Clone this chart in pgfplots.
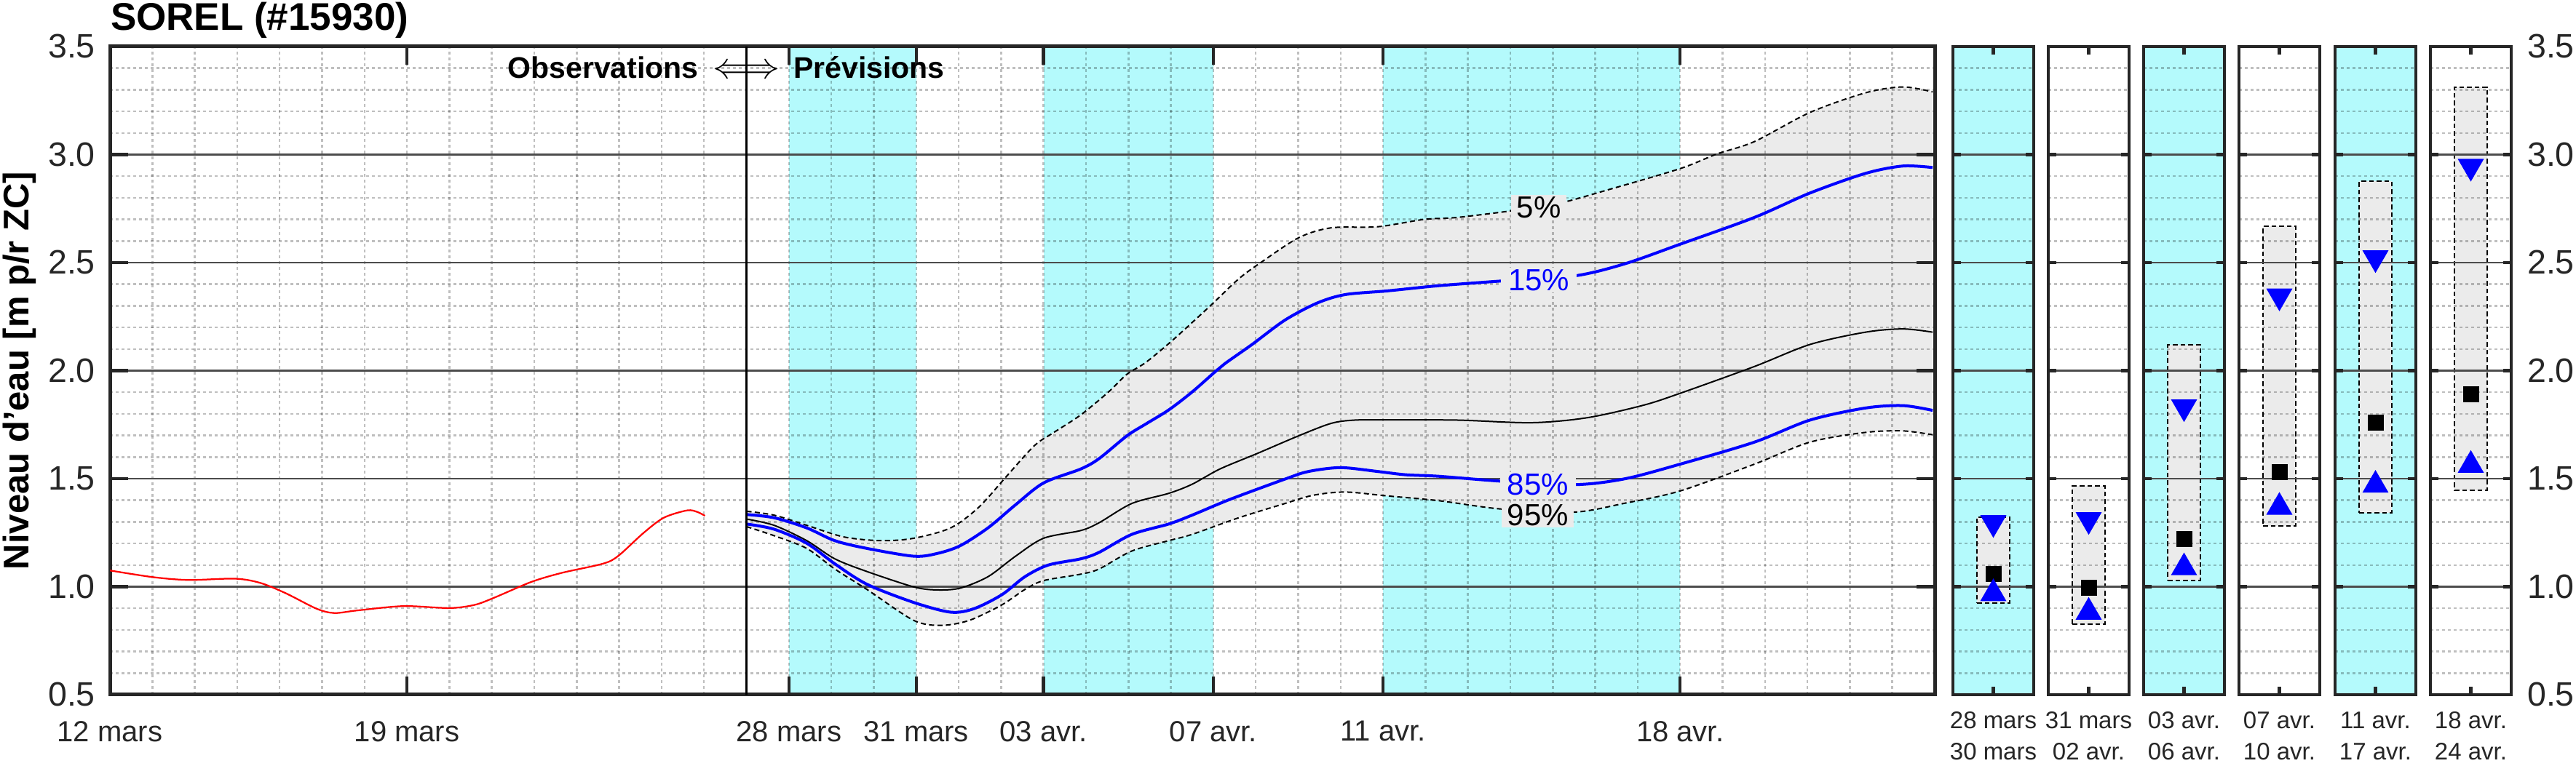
\documentclass[border=0pt]{standalone}
\usepackage{fontspec}
\setmainfont{Liberation Sans}
\usepackage{pgfplots}
\usepackage{pgfplotstable}
\pgfplotsset{compat=1.18}
\usepgfplotslibrary{fillbetween}

\definecolor{bandcyan}{RGB}{180,250,252}
\definecolor{bandgray}{RGB}{235,235,235}
\definecolor{axgray}{RGB}{38,38,38}

% x = days since 12 mars
\pgfplotstableread{
day val
0.00 1.075
1.02 1.044
1.86 1.031
2.95 1.037
3.55 1.017
4.15 0.969
4.87 0.898
5.29 0.878
5.83 0.890
6.92 0.910
8.00 0.901
8.60 0.916
9.08 0.951
9.93 1.022
10.65 1.064
11.61 1.106
11.97 1.141
12.57 1.248
13.05 1.319
13.60 1.353
13.84 1.346
14.02 1.328
}\obs

\pgfplotstableread{
day val
15.00 1.349
15.65 1.331
16.42 1.284
17.30 1.230
18.17 1.213
18.94 1.224
19.81 1.272
20.47 1.367
21.12 1.509
21.78 1.652
22.22 1.711
22.87 1.794
23.53 1.901
23.97 1.984
24.41 2.038
25.06 2.144
25.94 2.302
26.60 2.425
27.14 2.503
28.02 2.616
28.78 2.661
29.88 2.666
30.97 2.700
31.75 2.709
33.15 2.743
34.20 2.777
35.25 2.834
37.00 2.935
37.87 3.003
38.75 3.060
40.06 3.195
41.37 3.286
42.25 3.313
42.95 3.290
}\pfive

\pgfplotstableread{
day val
15.00 1.334
15.65 1.319
16.42 1.272
17.08 1.213
17.84 1.177
18.94 1.141
19.48 1.153
20.03 1.189
20.69 1.272
21.34 1.379
22.00 1.480
22.88 1.545
23.31 1.593
23.97 1.699
24.41 1.753
24.95 1.818
25.50 1.901
26.05 1.996
26.27 2.032
26.92 2.122
27.69 2.234
28.45 2.313
29.11 2.352
30.10 2.369
31.31 2.393
32.80 2.415
34.50 2.438
35.69 2.494
37.00 2.585
38.75 2.709
40.06 2.822
41.37 2.913
42.25 2.947
42.95 2.940
}\pfifteen

\pgfplotstableread{
day val
15.00 1.313
15.65 1.284
16.42 1.213
17.08 1.129
17.84 1.070
18.94 0.999
19.48 0.985
20.03 0.993
20.69 1.046
21.34 1.141
22.00 1.224
22.88 1.260
23.31 1.296
24.08 1.385
24.95 1.432
25.50 1.474
26.16 1.545
27.03 1.616
28.02 1.699
28.78 1.756
29.33 1.771
30.10 1.772
31.75 1.771
33.50 1.759
34.81 1.782
36.12 1.839
37.00 1.895
38.75 2.019
40.06 2.121
41.37 2.178
42.25 2.193
42.95 2.178
}\pfifty

\pgfplotstableread{
day val
15.00 1.290
15.65 1.266
16.42 1.201
17.08 1.106
17.84 1.011
18.94 0.927
19.81 0.882
20.36 0.898
21.02 0.963
21.56 1.046
22.11 1.100
22.88 1.129
23.31 1.159
24.08 1.242
24.95 1.290
25.50 1.331
26.38 1.403
27.69 1.498
28.24 1.533
29.00 1.551
29.88 1.533
30.53 1.518
31.31 1.511
32.80 1.488
34.50 1.472
35.69 1.499
37.00 1.567
38.75 1.669
40.06 1.771
41.37 1.827
42.25 1.838
42.95 1.816
}\peightyfive

\pgfplotstableread{
day val
15.00 1.278
15.65 1.236
16.42 1.177
17.08 1.082
17.84 0.987
18.94 0.844
19.59 0.821
20.25 0.844
21.02 0.916
21.56 0.987
22.00 1.028
22.88 1.058
23.31 1.082
24.08 1.165
24.95 1.213
25.50 1.242
26.60 1.319
27.69 1.385
28.35 1.423
29.11 1.438
30.10 1.420
31.31 1.398
32.80 1.359
34.50 1.345
35.69 1.386
37.00 1.443
38.75 1.567
40.06 1.669
41.37 1.714
42.25 1.721
42.95 1.703
}\pninetyfive

\tikzset{fill between/on layer=axis background}

\pgfplotsset{
  base/.style={
    scale only axis, set layers,
    ymin=0.5, ymax=3.5,
    ytick={0.5,1,1.5,2,2.5,3,3.5},
    minor y tick num=4,
    ymajorgrids, yminorgrids,
    major grid style={black!70, line width=0.45pt},
    minor grid style={black, opacity=0.25, line width=0.5pt, dash pattern=on 0.8pt off 0.8pt},
    axis line style={axgray, line width=1pt},
    tick style={axgray, line width=0.9pt},
    minor tick length=0pt,
    tick align=inside,
    tick pos=both,
    ticklabel style={text=axgray},
  },
  panel/.style={
    base,
    anchor=south west,
    width=22.2pt, height=178.2pt,
    xmin=0, xmax=1,
    xtick={0.5},
    major tick length=2.2pt,
    axis line style={axgray, line width=0.8pt},
    yticklabels={},
    xticklabel style={align=center, font=\fontsize{6.6}{8.6}\selectfont, yshift=-1.2pt},
  },
  rng/.style={draw=black, fill=bandgray, line width=0.4pt, dash pattern=on 1.3pt off 0.8pt, on layer=axis background},
  med/.style={only marks, mark=square*, mark size=2pt, black},
  hi/.style={only marks, mark=triangle*, mark size=3.75pt, blue, mark options={yshift=0.94pt, rotate=180}},
  lo/.style={only marks, mark=triangle*, mark size=3.75pt, blue, mark options={yshift=-0.94pt}},
}

\begin{document}
\begin{tikzpicture}

\begin{axis}[base,
  at={(30.2pt,19.6pt)}, anchor=south west,
  width=501.4pt, height=178.2pt,
  xmin=0, xmax=43,
  xtick={0,7,16,19,22,26,30,37},
  xticklabels={12 mars,19 mars,28 mars,31 mars,03 avr.,07 avr.,11 avr.,18 avr.},
  minor xtick={1,2,...,42},
  xminorgrids,
  major tick length=5pt,
  yticklabels={0.5,1.0,1.5,2.0,2.5,3.0,3.5},
  xticklabel style={font=\fontsize{8}{9.6}\selectfont, yshift=-3.7pt},
  yticklabel style={font=\fontsize{9.3}{11}\selectfont, xshift=-0.5pt},
  title={SOREL (\#15930)},
  every axis title/.style={at={(axis description cs:0,1)}, anchor=base west, inner sep=0pt, yshift=4.4pt, font=\bfseries\fontsize{10.6}{12}\selectfont},
  ylabel={Niveau d'eau [m p/r ZC]},
  ylabel style={at={(axis description cs:-0.0497,0.5)}, anchor=center, font=\bfseries\fontsize{9.8}{11}\selectfont},
]
% weekend bands
\addplot[draw=none, fill=bandcyan, on layer=axis background] coordinates {(16,3.5) (19,3.5)} \closedcycle;
\addplot[draw=none, fill=bandcyan, on layer=axis background] coordinates {(22,3.5) (26,3.5)} \closedcycle;
\addplot[draw=none, fill=bandcyan, on layer=axis background] coordinates {(30,3.5) (37,3.5)} \closedcycle;

\addplot[name path=p5, black, line width=0.4pt, dash pattern=on 1.4pt off 0.9pt, smooth] table {\pfive};
\addplot[name path=p95, black, line width=0.4pt, dash pattern=on 1.4pt off 0.9pt, smooth] table {\pninetyfive};
\addplot[bandgray] fill between[of=p5 and p95];

\addplot[black, line width=0.4pt, smooth] table {\pfifty};
\addplot[blue, line width=0.8pt, smooth] table {\pfifteen};
\addplot[blue, line width=0.8pt, smooth] table {\peightyfive};
\addplot[red, line width=0.45pt, smooth] table {\obs};

\addplot[black, line width=0.5pt] coordinates {(15,0.5) (15,3.5)};

\node[fill=bandgray, inner xsep=1.5pt, inner ysep=0.5pt, font=\fontsize{8.4}{10}\selectfont] at (axis cs:33.67,2.754) {5\%};
\node[fill=bandgray, inner xsep=2pt, inner ysep=0.5pt, text=blue, font=\fontsize{8.4}{10}\selectfont] at (axis cs:33.67,2.419) {15\%};
\node[fill=bandgray, inner xsep=2pt, inner ysep=0.5pt, text=blue, font=\fontsize{8.4}{10}\selectfont] at (axis cs:33.65,1.473) {85\%};
\node[fill=bandgray, inner xsep=1.5pt, inner ysep=0.5pt, font=\fontsize{8.4}{10}\selectfont] at (axis cs:33.65,1.332) {95\%};

\node[inner sep=0pt, anchor=base, font=\fontsize{9.8}{11}\selectfont] (arr) at (axis cs:15,3.355) {$\Longleftrightarrow$};
\node[inner sep=0pt, anchor=base east, font=\bfseries\fontsize{8.2}{10}\selectfont] at ([xshift=-3.6pt]arr.base west) {Observations};
\node[inner sep=0pt, anchor=base west, font=\bfseries\fontsize{8.2}{10}\selectfont] at ([xshift=3.4pt]arr.base east) {Prévisions};
\end{axis}

% period panels
\begin{axis}[panel, at={(536.6pt,19.6pt)}, axis background/.style={fill=bandcyan}, xticklabels={{28 mars\\30 mars}}]
\addplot[rng] coordinates {(0.3,0.923) (0.7,0.923) (0.7,1.323) (0.3,1.323)} -- cycle;
\addplot[hi] coordinates {(0.5,1.280)};
\addplot[med] coordinates {(0.5,1.058)};
\addplot[lo] coordinates {(0.5,0.984)};
\end{axis}

\begin{axis}[panel, at={(562.8pt,19.6pt)}, xticklabels={{31 mars\\02 avr.}}]
\addplot[rng] coordinates {(0.3,0.825) (0.7,0.825) (0.7,1.465) (0.3,1.465)} -- cycle;
\addplot[hi] coordinates {(0.5,1.294)};
\addplot[med] coordinates {(0.5,0.995)};
\addplot[lo] coordinates {(0.5,0.898)};
\end{axis}

\begin{axis}[panel, at={(589.0pt,19.6pt)}, axis background/.style={fill=bandcyan}, xticklabels={{03 avr.\\06 avr.}}]
\addplot[rng] coordinates {(0.3,1.029) (0.7,1.029) (0.7,2.119) (0.3,2.119)} -- cycle;
\addplot[hi] coordinates {(0.5,1.816)};
\addplot[med] coordinates {(0.5,1.221)};
\addplot[lo] coordinates {(0.5,1.104)};
\end{axis}

\begin{axis}[panel, at={(615.2pt,19.6pt)}, xticklabels={{07 avr.\\10 avr.}}]
\addplot[rng] coordinates {(0.3,1.280) (0.7,1.280) (0.7,2.668) (0.3,2.668)} -- cycle;
\addplot[hi] coordinates {(0.5,2.329)};
\addplot[med] coordinates {(0.5,1.529)};
\addplot[lo] coordinates {(0.5,1.384)};
\end{axis}

\begin{axis}[panel, at={(641.6pt,19.6pt)}, axis background/.style={fill=bandcyan}, xticklabels={{11 avr.\\17 avr.}}]
\addplot[rng] coordinates {(0.3,1.341) (0.7,1.341) (0.7,2.877) (0.3,2.877)} -- cycle;
\addplot[hi] coordinates {(0.5,2.506)};
\addplot[med] coordinates {(0.5,1.760)};
\addplot[lo] coordinates {(0.5,1.486)};
\end{axis}

\begin{axis}[panel, at={(667.8pt,19.6pt)}, xticklabels={{18 avr.\\24 avr.}},
  yticklabel pos=right,
  yticklabels={0.5,1.0,1.5,2.0,2.5,3.0,3.5},
  yticklabel style={font=\fontsize{9.3}{11}\selectfont, xshift=0.9pt}]
\addplot[rng] coordinates {(0.3,1.447) (0.7,1.447) (0.7,3.313) (0.3,3.313)} -- cycle;
\addplot[hi] coordinates {(0.5,2.929)};
\addplot[med] coordinates {(0.5,1.891)};
\addplot[lo] coordinates {(0.5,1.578)};
\end{axis}

\pgfresetboundingbox
\path (0,0) rectangle (707.8pt,210.6pt);
\end{tikzpicture}
\end{document}
